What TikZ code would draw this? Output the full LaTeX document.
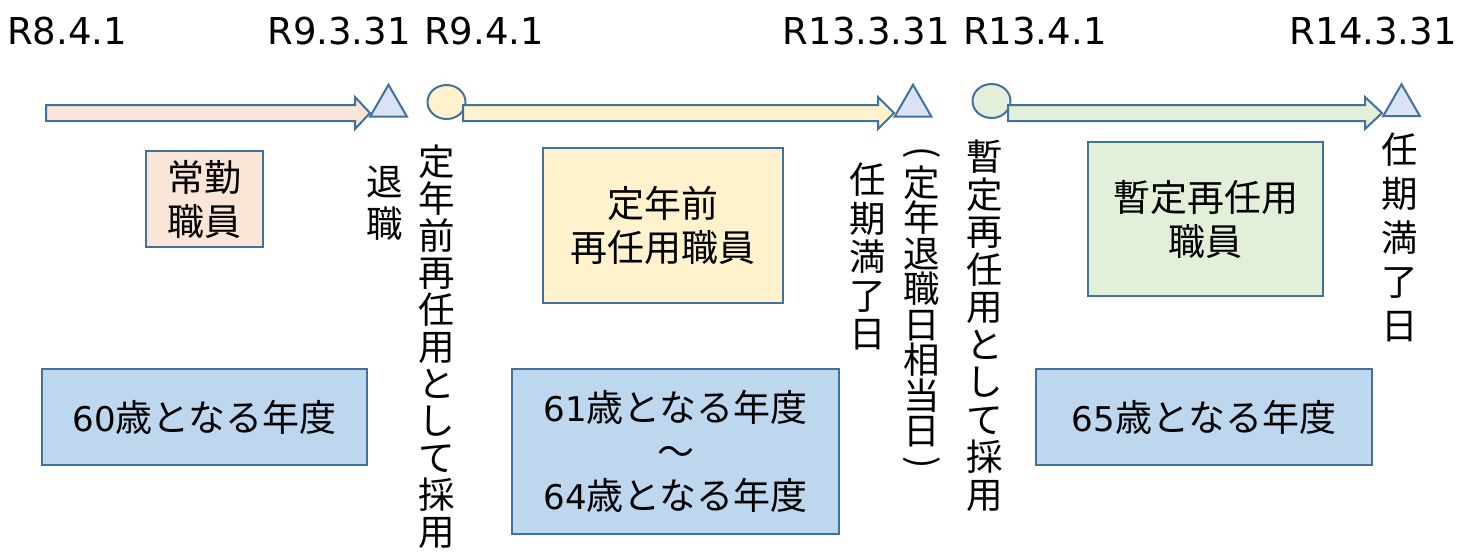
\documentclass[tikz,border=0pt]{standalone}
\usepackage{fontspec}
\usepackage{graphicx}
\setmainfont{DejaVu Sans}
\newfontfamily\jp{Noto Sans CJK JP}
\newfontfamily\vd{DejaVu Sans}[Scale=0.92]
\usetikzlibrary{shapes.geometric}
\definecolor{linecol}{HTML}{41719C}
\definecolor{pinkfill}{HTML}{FBE5D6}
\definecolor{yellowfill}{HTML}{FFF2CC}
\definecolor{greenfill}{HTML}{E2F0D9}
\definecolor{agefill}{HTML}{BDD7EE}
\definecolor{trifill}{HTML}{DAE3F3}
\newcommand{\vfont}[1]{\jp\fontsize{36.5}{#1}\selectfont\lineskiplimit=-30pt\relax}
\tikzstyle{datelabel} = [inner sep=0pt, font=\fontsize{37}{40}\selectfont]
\tikzstyle{stagebox} = [rectangle, draw=linecol, line width=2pt, align=center, inner sep=0pt, font=\jp\fontsize{37}{44}\selectfont]
\tikzstyle{endmark} = [regular polygon, regular polygon sides=3, draw=linecol, fill=trifill, line width=2pt, minimum size=42.5pt, inner sep=0pt]
\tikzstyle{startmark} = [ellipse, draw=linecol, line width=2pt, minimum width=38pt, minimum height=34pt, inner sep=0pt]
\tikzstyle{blockarrow} = [draw=linecol, line width=2pt, line join=miter]
\tikzset{vlabel/.style={align=center, inner sep=0pt, anchor=north, font={\vfont{#1}}}, vlabel/.default=37}
% block arrow: fill, start x, head base x, tip x
\newcommand{\blockarr}[4]{\draw[blockarrow, fill=#1] (#2,105) -- (#3,105) -- (#3,97) -- (#4,113) -- (#3,129) -- (#3,121) -- (#2,121) -- cycle;}

\begin{document}
\begin{tikzpicture}[x=1pt, y=-1pt]
\useasboundingbox (0,0) rectangle (1458,552);
% dates
\node[datelabel, anchor=base west] (d1) at (7,44) {R8.4.1};
\node[datelabel, anchor=base east] (d2) at (411,44) {R9.3.31};
\node[datelabel, anchor=base west] (d3) at (424,44) {R9.4.1};
\node[datelabel, anchor=base east] (d4) at (950,44) {R13.3.31};
\node[datelabel, anchor=base west] (d5) at (963,44) {R13.4.1};
\node[datelabel, anchor=base east] (d6) at (1457,44) {R14.3.31};
% timeline
\node (start1) [startmark, fill=yellowfill] at (446.5,102) {};
\node (start2) [startmark, fill=greenfill] at (991.5,101) {};
\blockarr{pinkfill}{46}{355}{370}
\blockarr{yellowfill}{463}{878}{894}
\blockarr{greenfill}{1008}{1365}{1382}
\node (end1) [endmark] at (388.5,106) {};
\node (end2) [endmark] at (913,106) {};
\node (end3) [endmark] at (1401.5,105.5) {};
% stages
\node (jokin) [stagebox, fill=pinkfill, minimum width=117pt, minimum height=96pt] at (204.5,199) {常勤\\職員};
\node (teinenmae) [stagebox, fill=yellowfill, minimum width=240pt, minimum height=155pt] at (663,225.5) {定年前\\再任用職員};
\node (zantei) [stagebox, fill=greenfill, minimum width=235pt, minimum height=154pt] at (1205.5,219) {暫定再任用\\職員};
\node (age60) [stagebox, fill=agefill, minimum width=325pt, minimum height=96pt] at (204.5,417) {{\vd 60}歳となる年度};
\node (age61) [stagebox, fill=agefill, minimum width=327pt, minimum height=165pt] at (675.5,451.5) {{\vd 61}歳となる年度\\～\\{\vd 64}歳となる年度};
\node (age65) [stagebox, fill=agefill, minimum width=336pt, minimum height=96pt] at (1204,417) {{\vd 65}歳となる年度};
% vertical notes
\node[vlabel=42] (retire) at (385,166) {退\\職};
\node[vlabel=37] (rehire1) at (437,145) {定\\年\\前\\再\\任\\用\\と\\し\\て\\採\\用};
\node[vlabel=38.5] (term1) at (868,163) {任\\期\\満\\了\\日};
\node[vlabel=35.5] (eqdate) at (922,146) {\rotatebox[origin=c]{-90}{(}\\[-3pt]定\\年\\退\\職\\日\\相\\当\\日\\[-6pt]\rotatebox[origin=c]{-90}{)}};
\node[vlabel=37.5] (rehire2) at (985,140) {暫\\定\\再\\任\\用\\と\\し\\て\\採\\用};
\node[vlabel=44] (term2) at (1400,133) {任\\期\\満\\了\\日};
\end{tikzpicture}
\end{document}
